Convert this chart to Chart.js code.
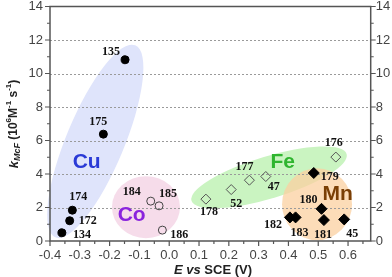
<!DOCTYPE html>
<html>
<head>
<meta charset="utf-8">
<script src="https://cdn.jsdelivr.net/npm/chart.js@4.4.1/dist/chart.umd.min.js"></script>
<style>
  html, body { margin: 0; padding: 0; background: #fff; }
</style>
</head>
<body>
<canvas id="grafico" width="392" height="277"></canvas>
<script>
// dados: E vs SCE (V) e kMcF (10^6 M^-1 s^-1)
const cu_ids = ["135", "175", "174", "172", "134"];
const cu_E = [-0.148, -0.221, -0.325, -0.334, -0.360];
const cu_k = [10.82, 6.38, 1.84, 1.21, 0.49];

const co_ids = ["184", "185", "186"];
const co_E = [-0.062, -0.034, -0.023];
const co_k = [2.38, 2.10, 0.65];

const fe_ids = ["178", "52", "177", "47", "176"];
const fe_E = [0.123, 0.208, 0.269, 0.324, 0.559];
const fe_k = [2.50, 3.07, 3.63, 3.85, 5.01];

const mn_ids = ["179", "180", "182", "183", "181", "45"];
const mn_E = [0.485, 0.511, 0.405, 0.424, 0.519, 0.587];
const mn_k = [4.06, 1.92, 1.41, 1.41, 1.25, 1.29];

const xTicks = [-0.4, -0.3, -0.2, -0.1, 0.0, 0.1, 0.2, 0.3, 0.4, 0.5, 0.6];
const yTicks = [0, 2, 4, 6, 8, 10, 12, 14];
const gridY = [2, 4, 6, 8, 10, 12];

// posicao dos numeros em relacao ao ponto (px)
const offCu = [[-14, -8], [-5, -12], [6, -13], [18, 0], [20, 2]];
const offCo = [[-19, -9], [9, -12], [17, 5]];
const offFe = [[3, 13], [5, 14], [-5, -13], [8, 10], [-2, -14]];
const offMn = [[16, 4], [-13, -9], [-17, 8], [4, 16], [-1, 15], [8, 15]];

// elipses dos grupos: centro em dados, raios em px, rotacao em graus
const grupos = [
  { nome: "Cu", cx: -0.248, cy: 5.95, rx: 104, ry: 29, rot: -67.4, fill: '#dfe4fb', cor: '#2a3ad6', lx: -0.277, ly: 4.71 },
  { nome: "Co", cx: -0.078, cy: 2.02, rx: 34, ry: 31, rot: 0, fill: '#f6dcea', cor: '#8a24dd', lx: -0.126, ly: 1.55 },
  { nome: "Fe", cx: 0.335, cy: 3.80, rx: 81, ry: 21, rot: -16.8, fill: '#caf4c1', cor: '#2fb52f', lx: 0.381, ly: 4.71 },
  { nome: "Mn", cx: 0.496, cy: 2.20, rx: 35, ry: 36, rot: 0, fill: 'rgba(251,208,160,0.75)', cor: '#7a3f05', lx: 0.565, ly: 2.82 }
];

const pts = (xs, ys) => xs.map((v, i) => ({ x: v, y: ys[i] }));

const fonteTick = { family: 'Liberation Sans, Arial, sans-serif', size: 13 };

let elipses = {
  id: 'elipses',
  beforeDraw(chart) {
    const { ctx, scales: { x, y } } = chart;
    ctx.save();
    ctx.fillStyle = '#fff';
    ctx.fillRect(0, 0, chart.width, chart.height);
    grupos.forEach(g => {
      ctx.beginPath();
      ctx.ellipse(x.getPixelForValue(g.cx), y.getPixelForValue(g.cy), g.rx, g.ry, g.rot * Math.PI / 180, 0, 2 * Math.PI);
      ctx.fillStyle = g.fill;
      ctx.fill();
    });
    ctx.restore();
  }
};

let moldura = {
  id: 'moldura',
  beforeDatasetsDraw(chart) {
    const { ctx, chartArea: a, scales: { x, y } } = chart;
    ctx.save();
    ctx.strokeStyle = '#9a9a9a';
    ctx.lineWidth = 1;
    ctx.setLineDash([2, 2]);
    gridY.forEach(v => {
      const py = Math.round(y.getPixelForValue(v)) + 0.5;
      ctx.beginPath();
      ctx.moveTo(a.left, py);
      ctx.lineTo(a.right, py);
      ctx.stroke();
    });
    ctx.setLineDash([]);
    ctx.strokeStyle = '#555';
    ctx.lineWidth = 1.5;
    ctx.strokeRect(a.left, a.top, a.right - a.left, a.bottom - a.top);
    ctx.lineWidth = 1.2;
    ctx.beginPath();
    for (let v = 0; v <= 14; v++) {
      const py = y.getPixelForValue(v);
      const len = v % 2 === 0 ? 5 : 3;
      ctx.moveTo(a.left, py); ctx.lineTo(a.left - len, py);
      ctx.moveTo(a.right, py); ctx.lineTo(a.right + len, py);
    }
    for (let i = 0; i <= 21; i++) {
      const px = x.getPixelForValue(-0.4 + i * 0.05);
      const len = i % 2 === 0 ? 5 : 3;
      ctx.moveTo(px, a.bottom); ctx.lineTo(px, a.bottom + len);
    }
    ctx.stroke();
    ctx.restore();
  }
};

function textoRico(ctx, partes, cx, cy) {
  let total = 0;
  partes.forEach(p => { ctx.font = p.f; total += ctx.measureText(p.t).width; });
  let px = cx - total / 2;
  ctx.textAlign = 'left';
  ctx.textBaseline = 'middle';
  partes.forEach(p => {
    ctx.font = p.f;
    ctx.fillText(p.t, px, cy + (p.dy || 0));
    px += ctx.measureText(p.t).width;
  });
}

let rotulos = {
  id: 'rotulos',
  afterDatasetsDraw(chart) {
    const { ctx, scales: { x, y } } = chart;
    const offs = [offCu, offCo, offFe, offMn];
    const ids = [cu_ids, co_ids, fe_ids, mn_ids];
    ctx.save();
    ctx.fillStyle = '#111';
    ctx.font = 'bold 12px "Liberation Serif", "Times New Roman", serif';
    ctx.textAlign = 'center';
    ctx.textBaseline = 'middle';
    offs.forEach((o, d) => {
      chart.getDatasetMeta(d).data.forEach((el, j) => {
        ctx.fillText(ids[d][j], el.x + o[j][0], el.y + o[j][1]);
      });
    });
    ctx.font = 'bold 21px "Liberation Sans", Arial, sans-serif';
    grupos.forEach(g => {
      ctx.fillStyle = g.cor;
      ctx.fillText(g.nome, x.getPixelForValue(g.lx), y.getPixelForValue(g.ly));
    });

    ctx.fillStyle = '#222';
    const sans = '"Liberation Sans", Arial, sans-serif';
    textoRico(ctx, [
      { t: 'E', f: 'italic bold 13px ' + sans },
      { t: ' vs ', f: 'italic bold 13px ' + sans },
      { t: 'SCE (V)', f: 'bold 13px ' + sans }
    ], 213, 270);

    ctx.translate(14, 124);
    ctx.rotate(-Math.PI / 2);
    textoRico(ctx, [
      { t: 'k', f: 'italic bold 13px ' + sans },
      { t: 'McF', f: 'italic bold 9px ' + sans, dy: 4 },
      { t: ' (10', f: 'bold 12px ' + sans },
      { t: '6', f: 'bold 8px ' + sans, dy: -5 },
      { t: 'M', f: 'bold 12px ' + sans },
      { t: '-1', f: 'bold 8px ' + sans, dy: -5 },
      { t: ' s', f: 'bold 12px ' + sans },
      { t: '-1', f: 'bold 8px ' + sans, dy: -5 },
      { t: ')', f: 'bold 12px ' + sans }
    ], 0, 0);
    ctx.restore();
  }
};

const semPadding = s => { s.paddingTop = 0; s.paddingBottom = 0; s.paddingLeft = 0; s.paddingRight = 0; };

let graf = new Chart(document.getElementById('grafico'), {
  type: 'scatter',
  data: {
    datasets: [
      { label: 'Cu', data: pts(cu_E, cu_k), pointStyle: 'circle', pointRadius: 4, backgroundColor: '#000', borderColor: '#000', borderWidth: 1 },
      { label: 'Co', data: pts(co_E, co_k), pointStyle: 'circle', pointRadius: 4, backgroundColor: 'rgba(0,0,0,0)', borderColor: '#444', borderWidth: 1 },
      { label: 'Fe', data: pts(fe_E, fe_k), pointStyle: 'rectRot', pointRadius: 5, backgroundColor: 'rgba(0,0,0,0)', borderColor: '#555', borderWidth: 1 },
      { label: 'Mn', data: pts(mn_E, mn_k), pointStyle: 'rectRot', pointRadius: 5.5, backgroundColor: '#000', borderColor: '#000', borderWidth: 1 }
    ]
  },
  options: {
    responsive: false,
    animation: false,
    layout: { padding: { top: 5, left: 0, right: 0, bottom: 0 } },
    plugins: {
      legend: { display: false },
      tooltip: { enabled: false }
    },
    scales: {
      x: {
        type: 'linear',
        min: -0.4,
        max: 0.676,
        afterBuildTicks: s => { s.ticks = xTicks.map(v => ({ value: v })); },
        ticks: {
          callback: v => (Math.abs(v) < 1e-9 ? 0 : v).toFixed(1),
          font: fonteTick, color: '#444', padding: 7, maxRotation: 0, autoSkip: false
        },
        grid: { display: false, drawTicks: false },
        border: { display: false },
        afterFit: s => { s.height = 36; semPadding(s); }
      },
      y: {
        position: 'left',
        min: 0,
        max: 14,
        afterBuildTicks: s => { s.ticks = yTicks.map(v => ({ value: v })); },
        ticks: { font: fonteTick, color: '#444', padding: 7 },
        grid: { display: false, drawTicks: false },
        border: { display: false },
        afterFit: s => { s.width = 50; semPadding(s); }
      },
      y2: {
        position: 'right',
        min: 0,
        max: 14,
        afterBuildTicks: s => { s.ticks = yTicks.map(v => ({ value: v })); },
        ticks: { font: fonteTick, color: '#444', padding: 5 },
        grid: { display: false, drawTicks: false },
        border: { display: false },
        afterFit: s => { s.width = 21.3; semPadding(s); }
      }
    }
  },
  plugins: [elipses, moldura, rotulos]
});
</script>
</body>
</html>
